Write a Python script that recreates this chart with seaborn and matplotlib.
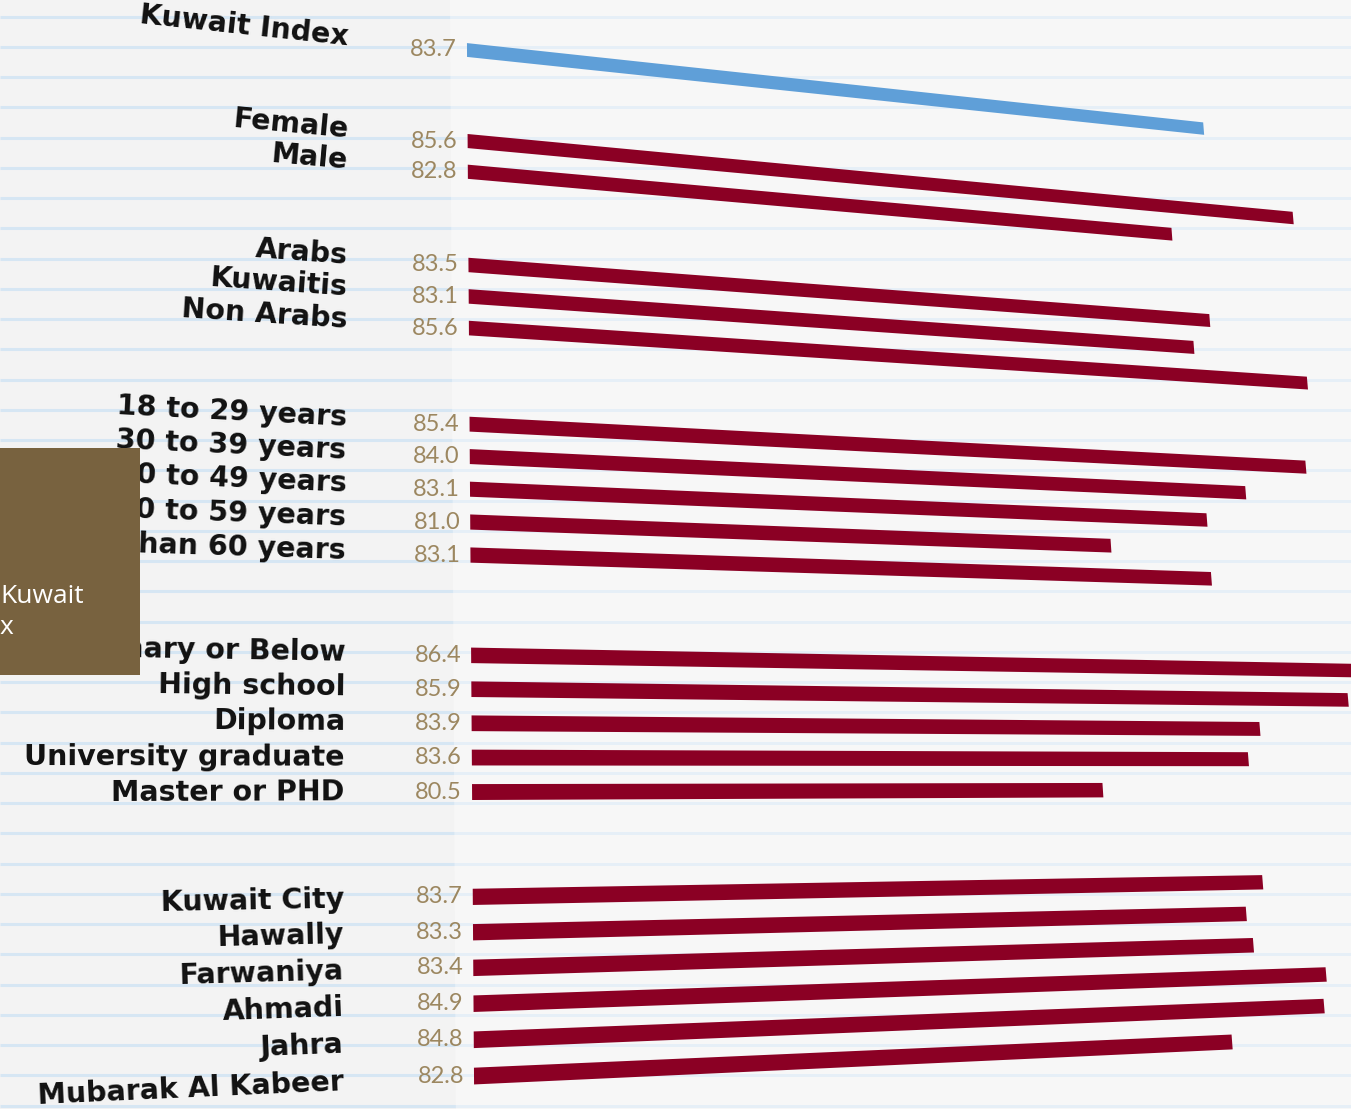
import numpy as np
import pandas as pd
import matplotlib
matplotlib.use("Agg")
import matplotlib.pyplot as plt
from matplotlib.transforms import Transform, offset_copy
from matplotlib.patches import Rectangle, Polygon
import seaborn as sns

# ---- data -------------------------------------------------------------
index_labels = ["Kuwait Index"]
index_values = [83.7]

gender_labels = ["Female", "Male"]
gender_values = [85.6, 82.8]

nationality_labels = ["Arabs", "Kuwaitis", "Non Arabs"]
nationality_values = [83.5, 83.1, 85.6]

age_labels = ["18 to 29 years", "30 to 39 years", "40 to 49 years",
              "50 to 59 years", "More than 60 years"]
age_values = [85.4, 84.0, 83.1, 81.0, 83.1]

education_labels = ["Primary or Below", "High school", "Diploma",
                    "University graduate", "Master or PHD"]
education_values = [86.4, 85.9, 83.9, 83.6, 80.5]

region_labels = ["Kuwait City", "Hawally", "Farwaniya", "Ahmadi", "Jahra",
                 "Mubarak Al Kabeer"]
region_values = [83.7, 83.3, 83.4, 84.9, 84.8, 82.8]

groups = [
    (index_labels, index_values),
    (gender_labels, gender_values),
    (nationality_labels, nationality_values),
    (age_labels, age_values),
    (education_labels, education_values),
    (region_labels, region_values),
]

# one row slot per bar, two empty slots between groups
records = []
slot = 0
for gi, (labels, values) in enumerate(groups):
    for lab, val in zip(labels, values):
        records.append({"label": lab, "value": val, "slot": slot,
                        "kind": "index" if gi == 0 else "segment"})
        slot += 1
    slot += 2
df = pd.DataFrame(records)

# ---- styling ----------------------------------------------------------
W, H = 1351, 1109
PAPER = "#f3f3f3"
RULE = "#d6e6f3"
BLUE = "#5f9fd8"
RED = "#8b0024"
TAN = "#9c8760"
BROWN = "#78623f"
VALUE_ORIGIN = 68.8          # value where the bars start


class TiltedPanel(Transform):
    """Projective map from (value, row slot) to page pixels: the panel is
    seen at an angle, receding towards the top and towards the right."""
    input_dims = 2
    output_dims = 2
    is_separable = False

    def __init__(self, matrix):
        super().__init__()
        self._m = np.asarray(matrix, float)

    def transform_non_affine(self, values):
        v = np.asarray(values, float)
        shape = v.shape
        v = v.reshape(-1, 2)
        h = np.column_stack([v, np.ones(len(v))]) @ self._m.T
        return (h[:, :2] / h[:, 2:3]).reshape(shape)


shift = np.array([[1.0, 0.0, -VALUE_ORIGIN],
                  [0.0, 1.0, 0.0],
                  [0.0, 0.0, 1.0]])
tilt = np.array([[59.31, -1.17, 467.0],
                 [6.33, 29.93, 50.0],
                 [0.0082, -0.002945, 1.0]]) @ shift
proj = TiltedPanel(tilt)

fig = plt.figure(figsize=(W / 100, H / 100), dpi=100, facecolor=PAPER)
ax = fig.add_axes([0, 0, 1, 1])

sns.barplot(data=df, x="value", y="slot", hue="kind",
            palette={"index": BLUE, "segment": RED},
            orient="y", native_scale=True, dodge=False, width=0.46,
            errorbar=None, legend=False, saturation=1, linewidth=0, ax=ax)

ax.set_xlim(0, W)
ax.set_ylim(H, 0)
ax.axis("off")

to_px = proj + ax.transData

# bars start at the value origin of the tilted scale
for bar in ax.patches:
    end = bar.get_x() + bar.get_width()
    bar.set_x(VALUE_ORIGIN)
    bar.set_width(end - VALUE_ORIGIN)
    bar.set_transform(to_px)
    bar.set_zorder(3)

# ruled notebook paper
ax.hlines(np.arange(16.5, H, 30.25), 0, W, colors=RULE, lw=2.2, zorder=0)

# slightly lighter panel behind the bars, running off the page
n_slots = df["slot"].max()
panel = Polygon([(VALUE_ORIGIN - 0.3, -10), (VALUE_ORIGIN + 45, -10),
                 (VALUE_ORIGIN + 45, n_slots + 7),
                 (VALUE_ORIGIN - 0.3, n_slots + 7)],
                closed=True, transform=to_px, facecolor="white",
                alpha=0.4, lw=0, zorder=1)
ax.add_patch(panel)

label_font = dict(family=["DejaVu Sans"], weight="bold",
                  fontsize=20.5, color="#111111")
value_font = dict(family=["Lato", "DejaVu Sans"], weight="normal",
                  fontsize=17, color=TAN)
value_trans = offset_copy(to_px, fig=fig, x=-10, y=0, units="dots")

for _, row in df.iterrows():
    r = row["slot"]
    a = to_px.transform((VALUE_ORIGIN - 2.1, r))
    b = to_px.transform((VALUE_ORIGIN - 1.1, r))
    angle = np.degrees(np.arctan2(b[1] - a[1], b[0] - a[0]))
    ax.text(VALUE_ORIGIN - 2.1, r, row["label"], transform=to_px,
            rotation=angle, rotation_mode="anchor", ha="right", va="center",
            zorder=4, **label_font)
    ax.text(VALUE_ORIGIN, r, f"{row['value']:.1f}", transform=value_trans,
            ha="right", va="center", zorder=4, **value_font)

# tooltip card at the left edge
ax.add_patch(Rectangle((0, 448), 140, 227, facecolor=BROWN, lw=0, zorder=10))
card_font = dict(family=["Open Sans", "DejaVu Sans"], fontsize=19,
                 color="white", ha="left", va="baseline", zorder=11)
ax.text(0, 603, "Kuwait", **card_font)
ax.text(0, 634, "x", **card_font)

fig.savefig("out.png", dpi=100, facecolor=PAPER)
